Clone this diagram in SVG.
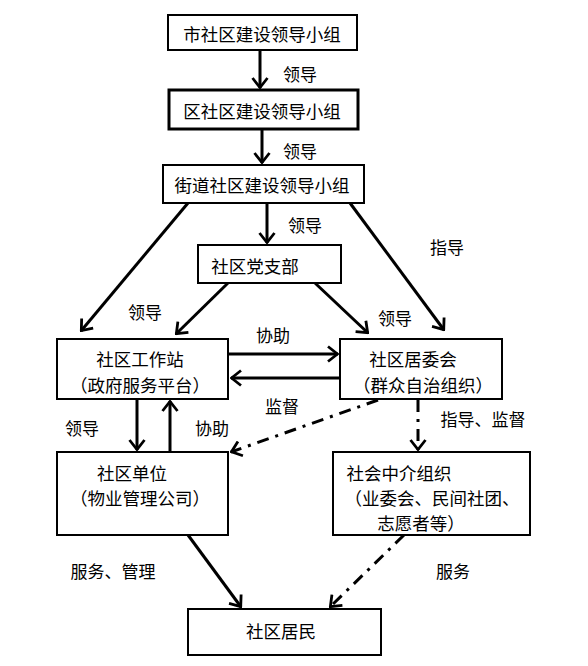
<svg xmlns="http://www.w3.org/2000/svg" width="588" height="666" viewBox="0 0 588 666">
<style>
.box{fill:#fff;stroke:#000;stroke-width:2}
.t{font-family:"Noto Sans CJK SC","Noto Sans",sans-serif;font-size:17.5px;fill:#000;text-anchor:middle;dominant-baseline:central}
.l{font-family:"Noto Sans CJK SC","Noto Sans",sans-serif;font-size:17px;fill:#000;text-anchor:middle;dominant-baseline:central}
.c{fill:none;stroke:#000;stroke-width:3;marker-end:url(#ah)}
.d{fill:none;stroke:#000;stroke-width:3;stroke-dasharray:12,7,3,7;marker-end:url(#ah)}
</style>
<defs>
<marker id="ah" viewBox="0 0 12 18" refX="11" refY="9" markerWidth="12" markerHeight="18" markerUnits="userSpaceOnUse" orient="auto">
<path d="M1,1.5 L10.5,9 L1,16.5" fill="none" stroke="#000" stroke-width="2.8"/>
</marker>
</defs>
<rect width="588" height="666" fill="#fff"/>
<g id="connectors">
<line class="c" x1="260" y1="50" x2="260" y2="88"/>
<line class="c" x1="262" y1="130" x2="262" y2="163"/>
<line class="c" x1="267" y1="203" x2="267" y2="243"/>
<line class="c" x1="188" y1="203" x2="81" y2="331"/>
<line class="c" x1="350" y1="203" x2="444" y2="330"/>
<line class="c" x1="228" y1="283" x2="176" y2="334"/>
<line class="c" x1="315" y1="283" x2="368" y2="333"/>
<line class="c" x1="229" y1="354" x2="338" y2="354"/>
<line class="c" x1="340" y1="378" x2="231" y2="378"/>
<line class="d" x1="378" y1="400" x2="231" y2="452"/>
<line class="d" x1="418" y1="400" x2="418" y2="450"/>
<line class="c" x1="137" y1="399" x2="137" y2="450"/>
<line class="c" x1="170" y1="452" x2="170" y2="401"/>
<line class="c" x1="188" y1="535" x2="241" y2="607"/>
<line class="d" x1="404" y1="535" x2="330" y2="607"/>
<text class="l" x="300" y="73">领导</text>
<text class="l" x="300" y="150">领导</text>
<text class="l" x="305" y="224">领导</text>
<text class="l" x="447" y="246">指导</text>
<text class="l" x="145" y="311">领导</text>
<text class="l" x="395" y="317">领导</text>
<text class="l" x="273" y="334">协助</text>
<text class="l" x="282" y="405">监督</text>
<text class="l" x="483" y="418">指导、监督</text>
<text class="l" x="82" y="427">领导</text>
<text class="l" x="212" y="427">协助</text>
<text class="l" x="113" y="570">服务、管理</text>
<text class="l" x="453" y="570">服务</text>
</g>
<g id="n1"><rect class="box" x="168" y="15" width="189" height="35"/><text class="t" x="262" y="33">市社区建设领导小组</text></g>
<g id="n2"><rect class="box" x="169" y="90" width="189" height="39" style="stroke-width:3"/><text class="t" x="262" y="110">区社区建设领导小组</text></g>
<g id="n3"><rect class="box" x="163" y="165" width="201" height="38"/><text class="t" x="262" y="184">街道社区建设领导小组</text></g>
<g id="n4"><rect class="box" x="198" y="245" width="143" height="38"/><text class="t" x="255" y="265">社区党支部</text></g>
<g id="n5"><rect class="box" x="57" y="339" width="171" height="60"/><text class="t" x="140" y="358">社区工作站</text><text class="t" x="140" y="384">（政府服务平台）</text></g>
<g id="n6"><rect class="box" x="340" y="339" width="162" height="60"/><text class="t" x="413" y="358">社区居委会</text><text class="t" x="423" y="384">（群众自治组织）</text></g>
<g id="n7"><rect class="box" x="57" y="452" width="171" height="83"/><text class="t" x="132" y="472">社区单位</text><text class="t" x="140" y="497">（物业管理公司）</text></g>
<g id="n8"><rect class="box" x="333" y="452" width="197" height="83"/><text class="t" x="399" y="472">社会中介组织</text><text class="t" x="432" y="497">（业委会、民间社团、</text><text class="t" x="421" y="522">志愿者等）</text></g>
<g id="n9"><rect class="box" x="188" y="609" width="193" height="46"/><text class="t" x="281" y="630">社区居民</text></g>
</svg>
